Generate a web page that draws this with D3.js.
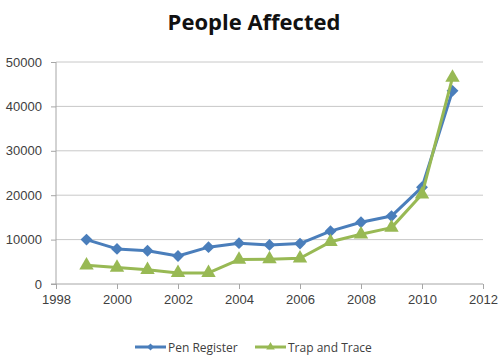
<!DOCTYPE html>
<html lang="en">
<head>
<meta charset="utf-8">
<style>
  body { margin: 0; background: white; }
  svg { font-family: 'Open Sans', sans-serif; }
  .grid line { stroke: #c8c8c8; }
  .axis path, .axis line { stroke: #a6a6a6; }
  .axis text { fill: #404040; font-size: 13px; }
</style>
</head>
<body>
<svg width="500" height="362"></svg>
<script src="https://d3js.org/d3.v7.min.js"></script>
<script>
const years = [1999, 2000, 2001, 2002, 2003, 2004, 2005, 2006, 2007, 2008, 2009, 2010, 2011];
const penRegister = [10000, 7900, 7500, 6300, 8300, 9200, 8800, 9100, 11900, 13900, 15300, 21800, 43500];
const trapAndTrace = [4200, 3700, 3200, 2500, 2500, 5500, 5600, 5800, 9500, 11200, 12700, 20200, 46500];
const yTicks = [0, 10000, 20000, 30000, 40000, 50000];
const xTicks = [1998, 2000, 2002, 2004, 2006, 2008, 2010, 2012];

const series = [
  { name: "Pen Register", values: penRegister, color: "#4a7ebb", marker: d3.symbolDiamond2 },
  { name: "Trap and Trace", values: trapAndTrace, color: "#98b954", marker: d3.symbolTriangle }
];

const svg = d3.select("svg");
const margin = { left: 56, right: 17, top: 62, bottom: 78 };
const width = 500, height = 362;

const x = d3.scaleLinear().domain([1998, 2012]).range([margin.left, width - margin.right]);
const y = d3.scaleLinear().domain([0, 50000]).range([height - margin.bottom, margin.top]);

svg.append("text")
  .attr("x", 254).attr("y", 30)
  .attr("text-anchor", "middle")
  .style("font-size", "22px").style("font-weight", "bold")
  .style("fill", "#111")
  .text("People Affected");

svg.append("g").attr("class", "grid")
  .selectAll("line").data(yTicks.slice(1)).join("line")
  .attr("x1", x(1998)).attr("x2", x(2012))
  .attr("y1", d => y(d)).attr("y2", d => y(d));

svg.append("g").attr("class", "axis")
  .attr("transform", `translate(${x(1998)},0)`)
  .call(d3.axisLeft(y).tickValues(yTicks).tickFormat(d3.format("d")).tickSize(5).tickPadding(9))
  .call(g => g.select(".domain").attr("d", `M-5,${y(0)}H0V${y(50000)}`));

svg.append("g").attr("class", "axis")
  .attr("transform", `translate(0,${y(0)})`)
  .call(d3.axisBottom(x).tickValues(xTicks).tickFormat(d3.format("d")).tickSize(5).tickPadding(6))
  .call(g => g.select(".domain").attr("d", `M${x(1998)},0H${x(2012)}`));

const line = d3.line().x((d, i) => x(years[i])).y(d => y(d));

series.forEach(s => {
  svg.append("path")
    .datum(s.values)
    .attr("fill", "none")
    .attr("stroke", s.color)
    .attr("stroke-width", 3)
    .attr("stroke-linejoin", "round")
    .attr("d", line);
  svg.append("g").selectAll("path").data(s.values).join("path")
    .attr("transform", (d, i) => `translate(${x(years[i])},${y(d)})`)
    .attr("d", d3.symbol(s.marker, 90))
    .attr("fill", s.color);
});

// legend
const legend = svg.append("g").attr("transform", "translate(135,347)");
const lx = [0, 120];
series.forEach((s, i) => {
  const g = legend.append("g").attr("transform", `translate(${lx[i]},0)`);
  g.append("line").attr("x1", 0).attr("x2", 31).attr("stroke", s.color).attr("stroke-width", 3);
  g.append("path").attr("transform", "translate(15.5,0)")
    .attr("d", d3.symbol(s.marker, 32)).attr("fill", s.color);
  g.append("text").attr("x", 33).attr("y", 4.5)
    .style("font-size", "12px").style("fill", "#404040")
    .text(s.name);
});
</script>
</body>
</html>
